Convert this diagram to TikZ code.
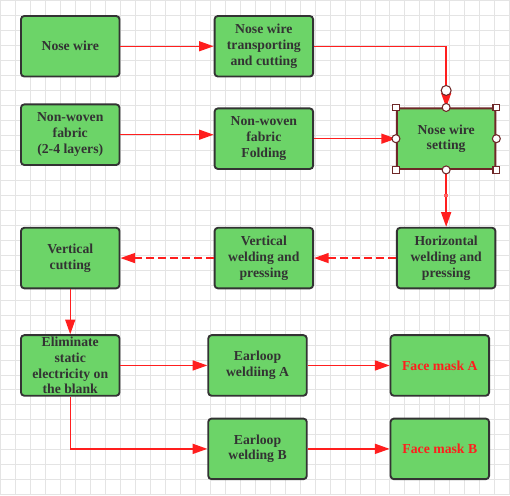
\documentclass[tikz,border=0pt]{standalone}
\usepackage{xcolor}
\usepackage{fontspec}
\setmainfont{Liberation Serif}[BoldFont={Liberation Serif Bold}]
\usepackage{tikz}
\usetikzlibrary{positioning,arrows.meta,calc}
\definecolor{boxgreen}{RGB}{108,212,104}
\definecolor{boxline}{RGB}{51,51,51}
\definecolor{flowred}{RGB}{255,30,30}
\definecolor{handlered}{RGB}{110,40,40}
\definecolor{gridgray}{RGB}{228,228,228}

\begin{document}
\begin{tikzpicture}[x=0.75pt, y=-0.75pt, every node/.style={font=\bfseries\fontsize{10.3}{11.8}\selectfont}]
      \tikzstyle{flowbox}=[draw=boxline, rounded corners=2.5pt, line width=1.4pt, fill=boxgreen, text=boxline, align=center, minimum width=74pt, minimum height=45.5pt, inner sep=1pt]
      \tikzstyle{flowarrow}=[-{Triangle[length=11pt, width=7.5pt]}, draw=flowred, line width=1.1pt]
      \tikzstyle{sqhandle}=[draw=handlered, fill=white, line width=0.8pt, minimum size=5pt, inner sep=0pt]
      \tikzstyle{cirhandle}=[draw=handlered, fill=white, line width=0.8pt, circle, minimum size=6pt, inner sep=0pt]
      % background grid
      \fill[white] (0,0) rectangle (510,495);
      \draw[gridgray, line width=0.5pt, step=11.25pt] (0,0) grid (510,495);
      \useasboundingbox (0,0) rectangle (510,495);
      % upper rows
      \node[flowbox] (nw) at (70,46) {Nose wire};
      \node[flowbox, right=70pt of nw] (nwcut) {Nose wire\\transporting\\and cutting};
      \node[flowbox, below=19.5pt of nw] (fab) {Non-woven\\fabric\\(2-4 layers)};
      \node[flowbox, right=70pt of fab, yshift=-3pt] (fold) {Non-woven\\fabric\\Folding};
      \node[flowbox, right=61.5pt of fold, draw=handlered] (setting) {Nose wire\\setting};
      % middle row
      \node[flowbox, below=42.75pt of setting] (hweld) {Horizontal\\welding and\\pressing};
      \node[flowbox, left=61.5pt of hweld] (vweld) {Vertical\\welding and\\pressing};
      \node[flowbox, left=70pt of vweld] (vcut) {Vertical\\cutting};
      % lower rows
      \node[flowbox, below=33.75pt of vcut] (elim) {Eliminate\\static\\electricity on\\the blank};
      \node[flowbox, right=65.25pt of elim] (earA) {Earloop\\weldiing A};
      \node[flowbox, below=15.75pt of earA] (earB) {Earloop\\welding B};
      \node[flowbox, right=61.5pt of earA, text=flowred] (maskA) {Face mask A};
      \node[flowbox, right=61.5pt of earB, text=flowred] (maskB) {Face mask B};
      % connectors
      \draw[flowarrow] (nw) -- (nwcut);
      \draw[flowarrow] (nwcut.east) -| (setting.north);
      \draw[flowarrow] (fab.east) -- (fab.east -| fold.west);
      \draw[flowarrow] (fold) -- (setting);
      \draw[flowarrow] (setting) -- (hweld);
      \draw[flowarrow, dash pattern=on 6pt off 3pt] (hweld) -- (vweld);
      \draw[flowarrow, dash pattern=on 6pt off 3pt] (vweld) -- (vcut);
      \draw[flowarrow] (vcut) -- (elim);
      \draw[flowarrow] (elim) -- (earA);
      \draw[flowarrow] (elim.south) |- (earB.west);
      \draw[flowarrow] (earA) -- (maskA);
      \draw[flowarrow] (earB) -- (maskB);
      % selection handles
      \foreach \c in {north west, north east, south west, south east}
        \node[sqhandle] at (setting.\c) {};
      \foreach \c in {north, south, east, west}
        \node[cirhandle] at (setting.\c) {};
      \node[cirhandle, minimum size=7.5pt] (tophandle) at ([yshift=12.75pt]setting.north) {};
      \node[fill=flowred!70!white, minimum size=2.5pt, inner sep=0pt] (midhandle) at ($(setting.south)!0.45!(hweld.north)$) {};
    \end{tikzpicture}
\end{document}
